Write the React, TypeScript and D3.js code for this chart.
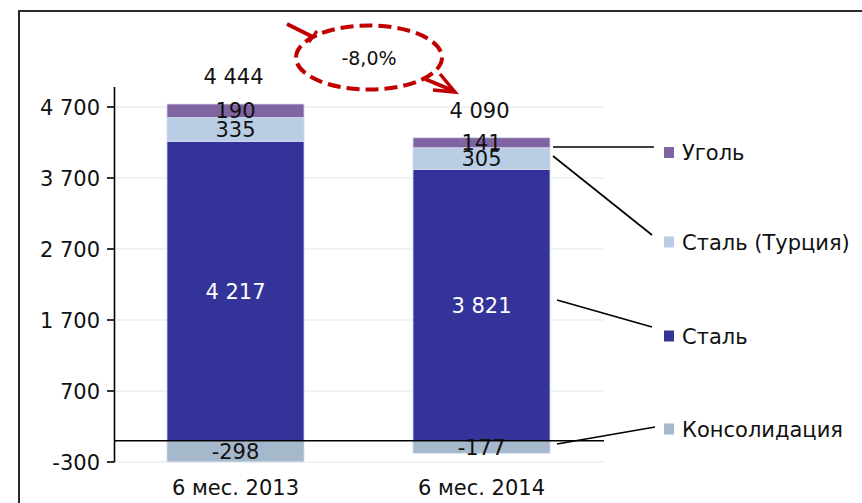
import React from "react";
import * as d3 from "d3";

// Production by segment, kt
const categories = ["6 мес. 2013", "6 мес. 2014"];
const seriesNames = ["Консолидация", "Сталь", "Сталь (Турция)", "Уголь"];
const consolidation = [-298, -177];
const steel = [4217, 3821];
const steelTurkey = [335, 305];
const coal = [190, 141];
const tickValues = [-300, 700, 1700, 2700, 3700, 4700];

const colors: Record<string, string> = {
  "Консолидация": "#a6b8cb",
  "Сталь": "#343399",
  "Сталь (Турция)": "#b9cde5",
  "Уголь": "#8064a2",
};
const labelColors: Record<string, string> = {
  "Консолидация": "#111",
  "Сталь": "#ffffff",
  "Сталь (Турция)": "#111",
  "Уголь": "#111",
};

const W = 862;
const H = 503;
const FONT = "Verdana, 'DejaVu Sans', sans-serif";
// space as thousands separator, plain hyphen for negatives
const fmt = (v: number) => d3.format(",")(v).replace(/,/g, " ").replace("−", "-");

export default function App() {
  const valuesBySeries: Record<string, number[]> = {
    "Консолидация": consolidation,
    "Сталь": steel,
    "Сталь (Турция)": steelTurkey,
    "Уголь": coal,
  };

  const y = d3.scaleLinear().domain([-300, 4700]).range([462, 107]);
  const x = d3
    .scaleBand<string>()
    .domain(categories)
    .range([112.5, 604.5])
    .paddingInner(0.443)
    .paddingOuter(0.2215);

  // stack: negatives go below zero, positives stack upward in order
  const segments: { series: string; cat: string; v: number; y0: number; y1: number }[] = [];
  const totals: number[] = [];
  const tops: number[] = [];
  categories.forEach((cat, i) => {
    let pos = 0;
    let neg = 0;
    let total = 0;
    seriesNames.forEach((s) => {
      const v = valuesBySeries[s][i];
      total += v;
      if (v < 0) {
        segments.push({ series: s, cat, v, y0: neg + v, y1: neg });
        neg += v;
      } else {
        segments.push({ series: s, cat, v, y0: pos, y1: pos + v });
        pos += v;
      }
    });
    totals.push(total);
    tops.push(pos);
  });

  const change = (totals[1] - totals[0]) / totals[0];
  const changeLabel = d3
    .format(".1%")(change)
    .replace("−", "-")
    .replace(".", ",");

  const axisX = 114.5;
  const gridEnd = 604;

  const legendItems = [
    { name: "Уголь", y: 152.5, from: [553, 147], to: [654, 147] },
    { name: "Сталь (Турция)", y: 242, from: [553, 156], to: [652, 235] },
    { name: "Сталь", y: 336, from: [557, 300], to: [652, 327] },
    { name: "Консолидация", y: 429, from: [557, 444], to: [655, 427] },
  ];

  const red = "#c00000";

  return (
    <svg
      width={W}
      height={H}
      style={{ position: "absolute", left: 0, top: 0, background: "#fff" }}
      fontFamily={FONT}
    >
      {/* outer frame */}
      <rect x={19} y={11} width={900} height={600} fill="none" stroke="#2a2a2a" strokeWidth={2} />

      {/* gridlines */}
      {tickValues.map((t) => (
        <line key={"g" + t} x1={axisX} x2={gridEnd} y1={y(t)} y2={y(t)} stroke="#eef4f4" strokeWidth={2} />
      ))}

      {/* bars */}
      {segments.map((s, i) => (
        <rect
          key={i}
          x={x(s.cat)!}
          width={x.bandwidth()}
          y={y(s.y1)}
          height={y(s.y0) - y(s.y1)}
          fill={colors[s.series]}
          stroke="#d6dcf2"
          strokeWidth={0.8}
        />
      ))}

      {/* segment labels */}
      {segments.map((s, i) => (
        <text
          key={"l" + i}
          x={x(s.cat)! + x.bandwidth() / 2}
          y={(y(s.y0) + y(s.y1)) / 2}
          dy="0.36em"
          textAnchor="middle"
          fontSize={21}
          fill={labelColors[s.series]}
        >
          {fmt(s.v)}
        </text>
      ))}

      {/* totals */}
      {categories.map((c, i) => (
        <text
          key={"t" + c}
          x={x(c)! + x.bandwidth() / 2 - 2}
          y={y(tops[i]) - 20}
          textAnchor="middle"
          fontSize={21}
          fill="#111"
        >
          {fmt(totals[i])}
        </text>
      ))}

      {/* zero line */}
      <line x1={axisX} x2={gridEnd} y1={y(0)} y2={y(0)} stroke="#000" strokeWidth={1.6} />

      {/* y axis */}
      <line x1={axisX} x2={axisX} y1={y(4980)} y2={y(-300)} stroke="#000" strokeWidth={1.6} />
      {tickValues.map((t) => (
        <g key={"tk" + t}>
          <line x1={107} x2={axisX} y1={y(t)} y2={y(t)} stroke="#000" strokeWidth={1.6} />
          <text x={100} y={y(t)} dy="0.36em" textAnchor="end" fontSize={21} fill="#111">
            {fmt(t)}
          </text>
        </g>
      ))}

      {/* category labels */}
      {categories.map((c) => (
        <text
          key={"c" + c}
          x={x(c)! + x.bandwidth() / 2}
          y={495}
          textAnchor="middle"
          fontSize={21}
          fill="#111"
        >
          {c}
        </text>
      ))}

      {/* legend with leader lines */}
      {legendItems.map((it) => (
        <g key={"lg" + it.name}>
          <line x1={it.from[0]} y1={it.from[1]} x2={it.to[0]} y2={it.to[1]} stroke="#000" strokeWidth={1.6} />
          <rect x={664} y={it.y - 5.5} width={10} height={11} fill={colors[it.name]} />
          <text x={682} y={it.y} dy="0.36em" fontSize={21} fill="#111">
            {it.name}
          </text>
        </g>
      ))}

      {/* change callout */}
      <ellipse
        cx={369}
        cy={57.5}
        rx={73}
        ry={32}
        fill="none"
        stroke={red}
        strokeWidth={4}
        strokeDasharray="13 6"
      />
      <line x1={287} y1={24} x2={313} y2={37} stroke={red} strokeWidth={4} />
      <line x1={309} y1={42} x2={317} y2={31} stroke={red} strokeWidth={3} />
      <line x1={425} y1={79} x2={454} y2={91} stroke={red} strokeWidth={4} />
      <polyline points="440,74 455,92 433,90" fill="none" stroke={red} strokeWidth={3.5} />
      <text x={369} y={58} dy="0.36em" textAnchor="middle" fontSize={19} fill="#111">
        {changeLabel}
      </text>
    </svg>
  );
}
